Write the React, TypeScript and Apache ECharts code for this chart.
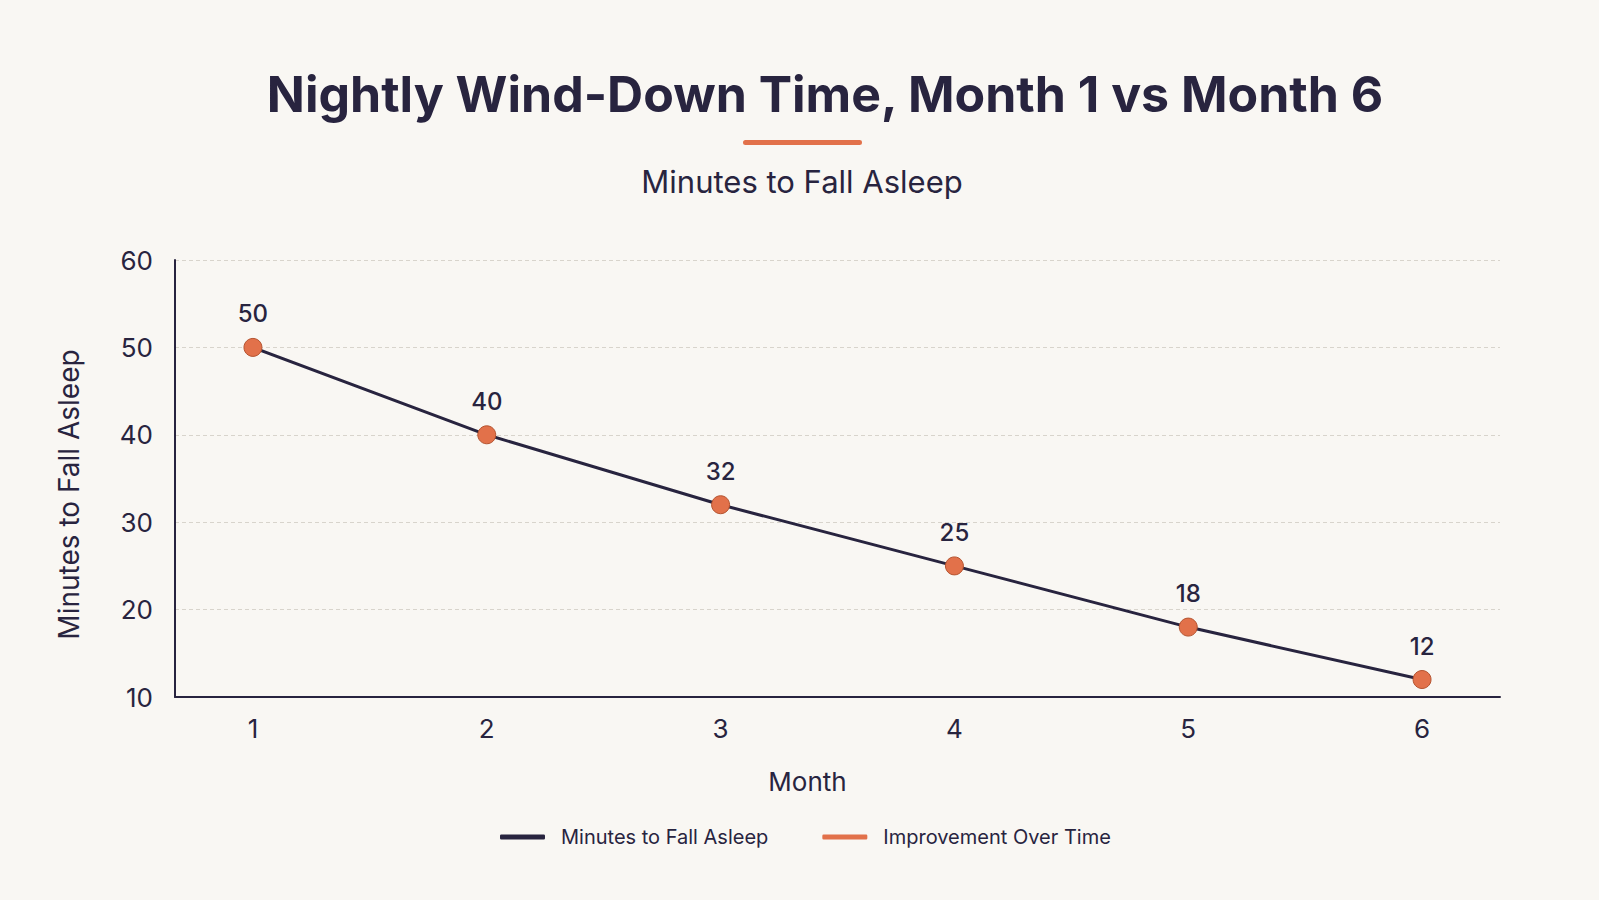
import React, { useEffect, useRef } from "react";
import * as echarts from "echarts";

// Month number and average minutes needed to fall asleep
const months = [1, 2, 3, 4, 5, 6];
const minutesToSleep = [50, 40, 32, 25, 18, 12];
const yTicks = { min: 10, max: 60, interval: 10 };

const INK = "#28243f";
const ACCENT = "#e2714a";
const BG = "#f9f7f3";
const FONT = "Inter, 'Noto Sans', sans-serif";

export default function App() {
  const ref = useRef<HTMLDivElement>(null);

  useEffect(() => {
    if (!ref.current) return;
    document.body.style.margin = "0";
    document.body.style.background = BG;
    const chart = echarts.init(ref.current, null, { renderer: "svg" });
    const points = months.map((m, i) => [m, minutesToSleep[i]]);

    chart.setOption({
      animation: false,
      backgroundColor: BG,
      textStyle: { fontFamily: FONT, color: INK },
      graphic: [
        {
          type: "text",
          x: 825,
          y: 94,
          style: {
            text: "Nightly Wind-Down Time, Month 1 vs Month 6",
            fill: INK,
            font: `bold 50px ${FONT}`,
            textAlign: "center",
            textVerticalAlign: "middle",
          },
        },
        {
          type: "rect",
          shape: { x: 743, y: 140, width: 119, height: 5, r: 2.5 },
          style: { fill: ACCENT },
        },
        {
          type: "text",
          x: 802,
          y: 181,
          style: {
            text: "Minutes to Fall Asleep",
            fill: INK,
            font: `31px ${FONT}`,
            textAlign: "center",
            textVerticalAlign: "middle",
          },
        },
      ],
      legend: {
        left: 500,
        top: 827,
        padding: 0,
        itemWidth: 45,
        itemHeight: 5,
        itemGap: 54,
        icon: "roundRect",
        itemStyle: { borderWidth: 0 },
        textStyle: { fontFamily: FONT, fontSize: 20, color: INK, padding: [0, 0, 0, 11] },
        data: ["Minutes to Fall Asleep", "Improvement Over Time"],
      },
      grid: { left: 175, right: 99, top: 260, bottom: 203 },
      xAxis: {
        type: "value",
        min: 2 / 3,
        max: 19 / 3,
        name: "Month",
        nameLocation: "middle",
        nameGap: 71,
        nameTextStyle: { fontSize: 26, color: INK, fontFamily: FONT, padding: [0, 60, 0, 0] },
        axisLine: { show: true, lineStyle: { color: INK, width: 2 } },
        axisTick: { show: false },
        splitLine: { show: false },
        axisLabel: {
          customValues: months,
          fontSize: 26,
          color: INK,
          margin: 18,
          fontFamily: FONT,
        },
      },
      yAxis: {
        type: "value",
        min: yTicks.min,
        max: yTicks.max,
        interval: yTicks.interval,
        name: "Minutes to Fall Asleep",
        nameLocation: "middle",
        nameGap: 92,
        nameTextStyle: { fontSize: 28, color: INK, fontFamily: FONT, padding: [0, 32, 0, 0] },
        axisLine: { show: true, lineStyle: { color: INK, width: 2 } },
        axisTick: { show: false },
        axisLabel: { fontSize: 26, color: INK, margin: 22, fontFamily: FONT },
        splitLine: { lineStyle: { color: "#d8d4cc", type: [4, 3], width: 1 } },
      },
      series: [
        {
          name: "Minutes to Fall Asleep",
          type: "line",
          data: points,
          showSymbol: false,
          lineStyle: { color: INK, width: 3 },
          itemStyle: { color: INK },
          z: 2,
        },
        {
          name: "Improvement Over Time",
          type: "line",
          data: points,
          symbol: "circle",
          symbolSize: 18,
          lineStyle: { opacity: 0, width: 0 },
          itemStyle: { color: ACCENT, borderColor: "#b4532f", borderWidth: 1 },
          label: {
            show: true,
            position: "top",
            distance: 12,
            fontSize: 24,
            fontWeight: 500,
            color: INK,
            fontFamily: FONT,
          },
          z: 3,
        },
      ],
    });

    return () => chart.dispose();
  }, []);

  return (
    <div
      ref={ref}
      style={{ position: "fixed", left: 0, top: 0, width: 1599, height: 900 }}
    />
  );
}
